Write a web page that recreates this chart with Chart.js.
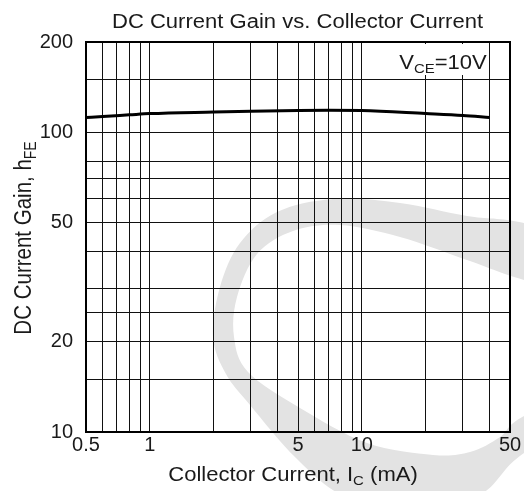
<!DOCTYPE html>
<html>
<head>
<meta charset="utf-8">
<script src="https://cdn.jsdelivr.net/npm/chart.js@4.4.1/dist/chart.umd.min.js"></script>
<style>
  html, body { margin: 0; padding: 0; background: #ffffff; }
  canvas { display: block; }
</style>
</head>
<body>
<canvas id="hfe" width="524" height="491"></canvas>
<script>
// Collector current (mA) and the measured DC current gain at VCE = 10 V
const currents = [0.5, 0.6, 0.8, 1, 2, 3, 5, 7, 10, 20, 30, 40];
const gain     = [112, 112.9, 114.3, 115.4, 116.8, 117.5, 118.1, 118.3, 118.1, 115.4, 113.7, 112];

// Log grid lines and the ones that carry a label
const xGrid   = [0.5, 0.6, 0.7, 0.8, 0.9, 1, 2, 3, 4, 5, 6, 7, 8, 9, 10, 20, 30, 40, 50];
const xLabels = [0.5, 1, 5, 10, 50];
const yGrid   = [10, 15, 20, 25, 30, 40, 50, 60, 70, 80, 100, 150, 200];
const yLabels = [10, 20, 50, 100, 200];

const FONT = '"Liberation Sans", Arial, Helvetica, sans-serif';
const INK = '#1a1a1a';
const STRETCH = 1.13;

// Text with optional subscript runs, e.g. [["I"],["C",true]]
function richWidth(ctx, parts, size) {
  let w = 0;
  for (const [t, sub] of parts) {
    ctx.font = (sub ? size * 0.68 : size) + 'px ' + FONT;
    w += ctx.measureText(t).width;
  }
  return w;
}
function drawRich(ctx, parts, size, align) {
  const w = richWidth(ctx, parts, size);
  let x = align === 'center' ? -w / 2 : (align === 'right' ? -w : 0);
  ctx.textBaseline = 'alphabetic';
  ctx.textAlign = 'left';
  for (const [t, sub] of parts) {
    ctx.font = (sub ? size * 0.68 : size) + 'px ' + FONT;
    ctx.fillText(t, x, sub ? size * 0.22 : 0);
    x += ctx.measureText(t).width;
  }
  return w;
}

// Smooth curve through points (Catmull-Rom as cubic Beziers), closed
function splineThrough(ctx, pts) {
  ctx.moveTo(pts[0][0], pts[0][1]);
  for (let i = 0; i < pts.length - 1; i++) {
    const p0 = pts[Math.max(i - 1, 0)], p1 = pts[i], p2 = pts[i + 1], p3 = pts[Math.min(i + 2, pts.length - 1)];
    ctx.bezierCurveTo(
      p1[0] + (p2[0] - p0[0]) / 6, p1[1] + (p2[1] - p0[1]) / 6,
      p2[0] - (p3[0] - p1[0]) / 6, p2[1] - (p3[1] - p1[1]) / 6,
      p2[0], p2[1]);
  }
  ctx.closePath();
}

const backdrop = {
  id: 'backdrop',
  beforeDraw(chart) {
    const ctx = chart.ctx;
    ctx.save();
    ctx.fillStyle = '#ffffff';
    ctx.fillRect(0, 0, chart.width, chart.height);
    // pale ring emblem behind the plot
    const outer = [[620, 250], [524, 223], [467, 216], [400, 203], [333, 199], [277, 212], [240, 243],
                   [220, 287], [213, 337], [226, 374], [250, 405], [296, 458], [345, 497], [420, 520],
                   [483, 493], [524, 453], [620, 400]];
    const inner = [[620, 305], [524, 280], [467, 260], [400, 237], [340, 225], [293, 231], [257, 254],
                   [237, 297], [234, 337], [248, 372], [300, 408], [367, 443], [433, 455], [470, 452],
                   [500, 437], [524, 416], [620, 370]];
    ctx.beginPath();
    splineThrough(ctx, outer);
    splineThrough(ctx, inner);
    ctx.fillStyle = '#e3e3e3';
    ctx.fill('evenodd');
    ctx.restore();
  },
  afterDraw(chart) {
    const ctx = chart.ctx;
    const a = chart.chartArea;
    ctx.save();

    // condition note, top right of the plot
    ctx.fillStyle = '#ffffff';
    ctx.fillRect(a.right - 112, a.top + 2, 89, 31);
    ctx.fillStyle = INK;
    ctx.save();
    ctx.translate(a.right - 67, a.top + 27);
    ctx.scale(STRETCH, 1);
    drawRich(ctx, [['V'], ['CE', true], ['=10V']], 19.5, 'center');
    ctx.restore();

    // plot frame
    ctx.strokeStyle = '#000000';
    ctx.lineWidth = 2;
    ctx.strokeRect(a.left, a.top, a.right - a.left, a.bottom - a.top);

    // chart title
    ctx.save();
    ctx.translate(297.5, 28);
    ctx.scale(STRETCH, 1);
    drawRich(ctx, [['DC Current Gain vs. Collector Current']], 19.5, 'center');
    ctx.restore();

    // x axis title
    ctx.save();
    ctx.translate(293, 481);
    ctx.scale(STRETCH, 1);
    drawRich(ctx, [['Collector Current, I'], ['C', true], [' (mA)']], 19.5, 'center');
    ctx.restore();

    // y axis title
    ctx.save();
    ctx.translate(31, 238);
    ctx.rotate(-Math.PI / 2);
    ctx.scale(1, STRETCH);
    drawRich(ctx, [['DC Current Gain, h'], ['FE', true]], 20.5, 'center');
    ctx.restore();

    ctx.restore();
  }
};

new Chart(document.getElementById('hfe'), {
  type: 'line',
  data: {
    datasets: [{
      data: currents.map((x, i) => ({ x: x, y: gain[i] })),
      borderColor: '#000000',
      borderWidth: 3,
      pointRadius: 0,
      fill: false,
      cubicInterpolationMode: 'monotone'
    }]
  },
  options: {
    responsive: false,
    animation: false,
    devicePixelRatio: 1,
    layout: { padding: { top: 42, right: 14, bottom: 0, left: 0 } },
    plugins: { legend: { display: false }, tooltip: { enabled: false }, title: { display: false } },
    scales: {
      x: {
        type: 'logarithmic',
        min: 0.5,
        max: 50,
        afterBuildTicks: s => { s.ticks = xGrid.map(v => ({ value: v })); },
        afterFit: s => { s.height = 59; },
        grid: { color: '#111111', lineWidth: 1, drawTicks: false },
        border: { display: false },
        ticks: {
          autoSkip: false, maxRotation: 0, minRotation: 0, padding: 1,
          color: INK, font: { family: FONT, size: 20 },
          callback: v => xLabels.includes(v) ? String(v) : ''
        }
      },
      y: {
        type: 'logarithmic',
        min: 10,
        max: 200,
        afterBuildTicks: s => { s.ticks = yGrid.map(v => ({ value: v })); },
        afterFit: s => { s.width = 86; },
        grid: { color: '#111111', lineWidth: 1, drawTicks: false },
        border: { display: false },
        ticks: {
          autoSkip: false, padding: 13,
          color: INK, font: { family: FONT, size: 20 },
          callback: v => yLabels.includes(v) ? String(v) : ''
        }
      }
    }
  },
  plugins: [backdrop]
});
</script>
</body>
</html>
